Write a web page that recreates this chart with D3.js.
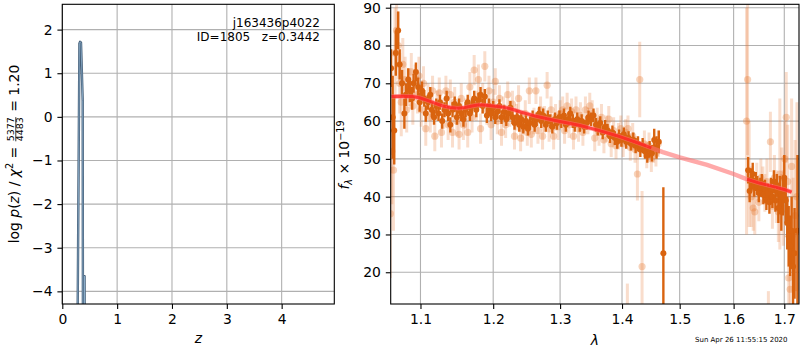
<!DOCTYPE html>
<html><head><meta charset="utf-8">
<script src="https://cdn.jsdelivr.net/npm/d3@7"></script>
<style>body{margin:0;background:#fff}text{font-family:"DejaVu Sans",sans-serif}</style>
</head><body><svg id="c" width="800" height="350"></svg>
<script>
// ---------- DATA ----------
const pzTicksX = [0, 1, 2, 3, 4];
const pzTicksY = [-4, -3, -2, -1, 0, 1, 2];
const pzZ   = [0.260, 0.281, 0.312, 0.325, 0.341, 0.372, 0.378, 0.400, 0.406, 0.412];
const pzLog = [-7.0, -4.3, 1.68, 1.72, 1.70, 0.37, -7.0, -7.0, -3.65, -7.0];

const specTicksX = [1.1, 1.2, 1.3, 1.4, 1.5, 1.6, 1.7];
const specTicksY = [20, 30, 40, 50, 60, 70, 80, 90];

// [lambda, flux, err] binned spectrum (dark)
const darkG102 = [
[1.062,74,5],[1.064,61,11],[1.066,57.5,9],[1.068,78,6],[1.071,84,5],[1.073,75,4],[1.076,70,3.5],
[1.079,62,4],[1.081,67,3],[1.084,71,3],[1.086,68,3],[1.089,66,3],[1.091,70,2.5],[1.094,73,2.5],
[1.097,69,2.5],[1.099,65,2.5],[1.102,68,2.5],[1.105,66,2.2],[1.107,62,2.2],[1.110,65,2],[1.113,67,2],
[1.115,63,2],[1.118,61,2],[1.121,64,2],[1.124,62,2],[1.126,65,2],[1.129,60,2],[1.132,63,2],[1.135,66,2],
[1.137,62,2],[1.140,59,2],[1.143,63,2],[1.146,64.5,2],[1.149,61,2],[1.152,64,2],[1.155,62,2],[1.158,60.5,2],
[1.161,63,2],[1.164,65,2],[1.167,62,2],[1.170,64,2],[1.173,66,2],[1.176,63,2],[1.179,65.5,2],[1.182,67,2],
[1.185,64,2],[1.188,66.5,2],[1.191,61.5,2],[1.194,64,2],[1.197,62,2],[1.200,63.5,1.8],[1.203,61,1.8],
[1.206,62.5,1.8],[1.209,64,1.8],[1.212,61,1.8],[1.216,62.5,1.8],[1.219,60.5,1.8],[1.222,62,1.8],
[1.225,63.5,1.8],[1.228,61,1.8],[1.231,59.5,1.8],[1.235,61,1.8],[1.238,59,1.8],[1.241,60.5,1.8],
[1.244,58.5,1.8],[1.248,60,1.8],[1.251,58,1.8],[1.254,59.5,1.8],[1.258,61,1.8],[1.261,59,1.8],
[1.264,60.5,1.8],[1.268,62,1.8],[1.271,60,1.8],[1.274,61.5,1.8],[1.278,59,1.8],[1.281,61,1.8],
[1.285,60,1.8],[1.288,58.5,1.8],[1.292,60.5,1.8],[1.295,59.5,1.8],[1.299,61,1.8],[1.302,60,1.8],
[1.306,61.5,1.8],[1.309,59,1.8],[1.313,60.5,1.8],[1.316,62,1.8],[1.320,60,1.8],[1.323,59,1.8],
[1.327,60.5,1.8],[1.331,59,1.8],[1.334,60,1.8],[1.338,58.5,1.8],[1.342,59.5,1.8],[1.345,61,1.8],
[1.349,60.5,1.8],[1.353,61.5,1.8],[1.357,59,1.8],[1.360,58,1.8],[1.364,59.5,1.8],[1.368,57,1.8],
[1.372,58.5,1.8],[1.376,57.5,1.8],[1.380,56,1.8],[1.384,57,1.8],[1.388,55.5,1.8],[1.392,54.5,1.8],
[1.395,56,1.8],[1.399,55,1.8],[1.403,56.5,1.8],[1.407,54.5,1.8],[1.411,55.5,1.8],[1.415,54,1.8],
[1.419,55,2],[1.423,53.5,2],[1.427,54,2],[1.431,52.5,2],[1.435,53.5,2],[1.439,52,2],[1.443,51,2],
[1.447,52.5,2.2],[1.451,51.5,2.2],[1.455,55,3],[1.459,53,3],[1.463,54.5,3],[1.471,25,17.5]
];
const darkG141 = [
[1.628,47,3.5],[1.631,41.5,3],[1.634,44.5,3],[1.637,46,3],[1.640,42.5,2.5],[1.643,44,2.5],[1.646,43,2.5],
[1.649,41,2.5],[1.652,42.5,2.5],[1.655,43.5,2.5],[1.658,40.5,2.5],[1.661,42,2.5],[1.664,39,2.5],
[1.667,41,2.5],[1.670,38.5,3],[1.673,42,3],[1.676,40,3],[1.679,44,3],[1.682,39,3],[1.685,43,3],
[1.688,37,4],[1.691,41.5,4],[1.694,36,5],[1.697,40,5],[1.700,45,6],[1.703,39,6],[1.706,33,7],
[1.709,29.5,8],[1.712,27,8],[1.715,31,9],[1.718,21.5,10],[1.721,25,12],[1.727,31,20]
];
// [lambda, flux, err] individual beams (light)
const lightG102 = [
[1.061,35.5,17],[1.063,52,14],[1.065,47,16],[1.067,78,12],[1.069,84,10],[1.071,80,9],[1.073,70,8],
[1.075,65,9],[1.077,75,7],[1.080,71,6],[1.082,63,6],[1.085,69,5],[1.088,73,5],[1.090,64,5],[1.093,70,5],
[1.096,67,5],[1.098,72,5],[1.101,63,4.5],[1.104,70,4.5],[1.107,58,4.5],[1.110,66,4],[1.113,61,4],
[1.116,68,4],[1.119,56,4],[1.122,64,4],[1.125,67.5,4],[1.128,57,4],[1.131,62,4],[1.134,68,4],[1.137,59,4],
[1.140,67,4],[1.143,57,4],[1.146,65,4],[1.149,60,4],[1.152,56.5,4],[1.155,66,4],[1.158,59,4],[1.161,62,4],
[1.164,57,4],[1.167,69,4],[1.170,61,4],[1.173,73.5,4],[1.176,64,4],[1.179,71,4],[1.182,58,4],[1.185,66,4],
[1.188,74.5,4],[1.191,63,4],[1.194,68,4],[1.197,59,4],[1.200,65,3.5],[1.203,70.5,3.5],[1.206,60,3.5],
[1.209,66,3.5],[1.212,57,3.5],[1.215,63,3.5],[1.218,59,3.5],[1.221,67,3.5],[1.224,62,3.5],[1.228,64.5,3.5],
[1.231,56,3.5],[1.234,61,3.5],[1.237,66,3.5],[1.240,55.5,3.5],[1.243,58,3.5],[1.247,62,3.5],[1.250,57,3.5],
[1.253,68,3.5],[1.256,56.5,3.5],[1.260,60,3.5],[1.263,68,3.5],[1.266,57.5,3.5],[1.270,63,3.5],[1.273,56,3.5],
[1.276,60.5,3.5],[1.280,69.5,3.5],[1.283,58,3.5],[1.286,63,3.5],[1.290,56,3.5],[1.293,61,3.5],
[1.297,58.5,3.5],[1.300,62,3.5],[1.304,63,3.5],[1.307,57.5,3.5],[1.311,64,3.5],[1.314,59,3.5],
[1.318,62.5,3.5],[1.321,56,3.5],[1.325,63,3.5],[1.329,58,3.5],[1.332,61.5,3.5],[1.336,57,3.5],
[1.340,63,3.5],[1.344,60,3.5],[1.347,64,3.5],[1.351,62,3.5],[1.355,55.5,3.5],[1.359,60,3.5],
[1.362,57,3.5],[1.366,61,3.5],[1.370,55,3.5],[1.374,58,3.5],[1.378,60.5,3.5],[1.382,54,3.5],
[1.386,57.5,3.5],[1.390,53.5,3.5],[1.394,56,3.5],[1.398,58,3.5],[1.402,54,3.5],[1.406,57,3.5],
[1.409,5,12],[1.410,58,3.5],[1.414,53,3.5],[1.418,56,3.5],[1.422,52.5,3.5],[1.426,46,7],[1.430,71,10],
[1.434,21.5,20],[1.438,54,3.5],[1.442,51,3.5],[1.446,53.5,3.5],[1.450,50,3.5],[1.454,52.5,3.5],
[1.458,51.5,3.5],[1.462,54,3.5]
];
const lightG141 = [
[1.625,60,30],[1.627,71,20],[1.630,46,14],[1.634,40,8],[1.638,37,6],[1.641,36,6],[1.645,44,5],
[1.649,38.5,5],[1.653,45,5],[1.657,43,5],[1.661,41,5],[1.665,44,6],[1.668,5,10],[1.672,54.5,8],
[1.676,37.5,6],[1.680,45,6],[1.684,40,7],[1.688,36,8],[1.691,46,20],[1.695,45,8],[1.698,37,10],
[1.701,50,10],[1.704,61,12],[1.707,44,15],[1.709,18.5,12],[1.712,15.5,12],[1.715,48,18],
[1.718,30,15],[1.722,35,20],[1.726,40,25]
];
const modelLam  = [1.0625,1.075,1.09,1.10,1.11,1.12,1.13,1.14,1.15,1.16,1.17,1.18,1.19,1.20,1.21,1.22,1.23,1.24,1.25,1.26,1.28,1.30,1.33,1.36,1.39,1.42,1.45,1.47,1.50,1.55,1.60,1.626,1.65,1.68,1.70,1.715];
const modelFlux = [66.5,66.6,66.5,66.1,65.4,64.7,64.0,63.6,63.4,63.6,64.0,64.3,64.2,64.0,63.8,63.5,63.0,62.4,61.9,61.4,60.6,59.9,58.9,57.6,56.2,54.6,52.9,51.8,50.4,48.4,46.0,44.6,43.6,42.6,41.9,41.2];
const dataRanges = [[1.0625,1.465],[1.626,1.715]];

// ---------- DRAW ----------
const svg = d3.select('#c');
const FS = 13.9;
const gridC = '#b0b0b0';

const xL = d3.scaleLinear().domain([0, 4.96]).range([62.3, 334.3]);
const yL = d3.scaleLinear().domain([-4.29, 2.58]).range([304, 4.3]);
const xR = d3.scaleLog().domain([1.0615, 1.7302]).range([390.7, 799]);
const yR = d3.scaleLinear().domain([11.6, 90.9]).range([304, 4.3]);

const defs = svg.append('defs');
defs.append('clipPath').attr('id','clipL').append('rect')
  .attr('x',xL.range()[0]).attr('y',yL.range()[1]).attr('width',xL.range()[1]-xL.range()[0]).attr('height',yL.range()[0]-yL.range()[1]);
defs.append('clipPath').attr('id','clipR').append('rect')
  .attr('x',xR.range()[0]).attr('y',yR.range()[1]).attr('width',xR.range()[1]-xR.range()[0]).attr('height',yR.range()[0]-yR.range()[1]);

function grid(x, y, tx, ty){
  const g = svg.append('g');
  g.selectAll('.gx').data(tx).join('line')
    .attr('x1',d=>x(d)).attr('x2',d=>x(d)).attr('y1',y.range()[0]).attr('y2',y.range()[1])
    .attr('stroke',gridC).attr('stroke-width',1.1);
  g.selectAll('.gy').data(ty).join('line')
    .attr('y1',d=>y(d)).attr('y2',d=>y(d)).attr('x1',x.range()[0]).attr('x2',x.range()[1])
    .attr('stroke',gridC).attr('stroke-width',1.1);
}
function axes(x, y, tx, ty, fmtX, fmtY){
  const b = y.range()[0], l = x.range()[0];
  const ax = svg.append('g').attr('transform',`translate(0,${b})`)
    .call(d3.axisBottom(x).tickValues(tx).tickFormat(fmtX).tickSize(4.9).tickPadding(4.9).tickSizeOuter(0));
  const ay = svg.append('g').attr('transform',`translate(${l},0)`)
    .call(d3.axisLeft(y).tickValues(ty).tickFormat(fmtY).tickSize(4.9).tickPadding(4.9).tickSizeOuter(0));
  [ax, ay].forEach(a=>{
    a.select('.domain').remove();
    a.selectAll('line').attr('stroke','#000').attr('stroke-width',1.1);
    a.selectAll('text').attr('font-size',FS).attr('font-family','DejaVu Sans').attr('fill','#000');
  });
  ax.selectAll('text').attr('dy','0.76em');
  svg.append('rect').attr('x',x.range()[0]).attr('y',y.range()[1])
    .attr('width',x.range()[1]-x.range()[0]).attr('height',y.range()[0]-y.range()[1])
    .attr('fill','none').attr('stroke','#000').attr('stroke-width',1.1);
}
const minus = s => s.replace('-', '\u2212');

// ----- left panel -----
grid(xL, yL, pzTicksX, pzTicksY);
const pzLine = d3.line().x((d,i)=>xL(pzZ[i])).y((d,i)=>yL(pzLog[i]));
const gL = svg.append('g').attr('clip-path','url(#clipL)');
gL.append('path').datum(pzZ).attr('d',pzLine).attr('fill','none')
  .attr('stroke','#465f78').attr('stroke-width',2.4).attr('stroke-linejoin','round');
gL.append('path').datum(pzZ).attr('d',pzLine).attr('fill','none')
  .attr('stroke','#8fb2cf').attr('stroke-width',0.8).attr('stroke-linejoin','round');
axes(xL, yL, pzTicksX, pzTicksY, d=>String(d), d=>minus(String(d)));

svg.append('text').attr('x',320).attr('y',26.5).attr('text-anchor','end')
  .attr('font-size',12).text('j163436p4022');
svg.append('text').attr('x',320).attr('y',40.5).attr('text-anchor','end')
  .attr('font-size',12).style('white-space','pre').text('ID=1805   z=0.3442');

svg.append('text').attr('x',(xL.range()[0]+xL.range()[1])/2).attr('y',343)
  .attr('text-anchor','middle').attr('font-size',FS).attr('font-style','italic').text('z');

{
  const g = svg.append('g').attr('transform','translate(18.5,154) rotate(-90)');
  const t1 = g.append('text').attr('font-size',FS).style('white-space','pre');
  t1.append('tspan').text('log ');
  t1.append('tspan').attr('font-style','italic').text('p');
  t1.append('tspan').text('(');
  t1.append('tspan').attr('font-style','italic').text('z');
  t1.append('tspan').text(') / ');
  t1.append('tspan').attr('font-style','italic').text('\u03c7');
  t1.append('tspan').attr('font-size',9.7).attr('dy',-5.5).text('2');
  t1.append('tspan').attr('dy',5.5).text(' = ');
  const w1 = t1.node().getComputedTextLength();
  const num = g.append('text').attr('font-size',9.5).attr('text-anchor','middle').attr('y',-4.2).text('5377');
  const den = g.append('text').attr('font-size',9.5).attr('text-anchor','middle').attr('y',4.6).text('4483');
  const wF = Math.max(num.node().getComputedTextLength(), den.node().getComputedTextLength()) + 2;
  const t3 = g.append('text').attr('font-size',FS).style('white-space','pre').text(' = 1.20');
  const w3 = t3.node().getComputedTextLength();
  const start = -(w1 + wF + w3)/2;
  t1.attr('x', start);
  num.attr('x', start + w1 + wF/2);
  den.attr('x', start + w1 + wF/2);
  g.append('line').attr('x1',start+w1+1).attr('x2',start+w1+wF-1).attr('y1',-2.7).attr('y2',-2.7)
    .attr('stroke','#000').attr('stroke-width',0.8);
  t3.attr('x', start + w1 + wF);
}

// ----- right panel -----
grid(xR, yR, specTicksX, specTicksY);
const gR = svg.append('g').attr('clip-path','url(#clipR)');
const light = lightG102.concat(lightG141);
const dark = darkG102.concat(darkG141);

gR.selectAll('.le').data(light).join('line')
  .attr('x1',d=>xR(d[0])).attr('x2',d=>xR(d[0]))
  .attr('y1',d=>yR(d[1]-d[2])).attr('y2',d=>yR(d[1]+d[2]))
  .attr('stroke','rgb(232,120,50)').attr('stroke-opacity',0.25).attr('stroke-width',3);
gR.selectAll('.lp').data(light).join('circle')
  .attr('cx',d=>xR(d[0])).attr('cy',d=>yR(d[1])).attr('r',3.6)
  .attr('fill','rgb(232,120,50)').attr('fill-opacity',0.33);
gR.selectAll('.de').data(dark).join('line')
  .attr('x1',d=>xR(d[0])).attr('x2',d=>xR(d[0]))
  .attr('y1',d=>yR(d[1]-d[2])).attr('y2',d=>yR(d[1]+d[2]))
  .attr('stroke','#d9630f').attr('stroke-width',2.4);
gR.selectAll('.dp').data(dark).join('circle')
  .attr('cx',d=>xR(d[0])).attr('cy',d=>yR(d[1])).attr('r',3)
  .attr('fill','#d9630f');

const mLine = d3.line().x(i=>xR(modelLam[i])).y(i=>yR(modelFlux[i]));
const idx = modelLam.map((d,i)=>i);
gR.append('path').datum(idx).attr('d',mLine).attr('fill','none')
  .attr('stroke','#ff7070').attr('stroke-opacity',0.6).attr('stroke-width',4.5);
dataRanges.forEach(r=>{
  const sub = idx.filter(i=>modelLam[i]>=r[0]-1e-6 && modelLam[i]<=r[1]+1e-6);
  gR.append('path').datum(sub).attr('d',mLine).attr('fill','none')
    .attr('stroke','#ff1a1a').attr('stroke-opacity',0.7).attr('stroke-width',3);
});

axes(xR, yR, specTicksX, specTicksY, d=>d3.format('.1f')(d), d=>String(d));

svg.append('text').attr('x',(xR.range()[0]+xR.range()[1])/2).attr('y',345)
  .attr('text-anchor','middle').attr('font-size',FS).attr('font-style','italic').text('\u03bb');
{
  const g = svg.append('g').attr('transform','translate(349,155) rotate(-90)');
  const t = g.append('text').attr('font-size',FS).attr('text-anchor','middle').style('white-space','pre');
  t.append('tspan').attr('font-style','italic').text('f');
  t.append('tspan').attr('font-size',9.7).attr('font-style','italic').attr('dy',3).text('\u03bb');
  t.append('tspan').attr('dy',-3).text(' \u00d7 10');
  t.append('tspan').attr('font-size',9.7).attr('dy',-5.5).text('\u221219');
}
svg.append('text').attr('x',787.5).attr('y',342).attr('text-anchor','end')
  .attr('font-size',7).text('Sun Apr 26 11:55:15 2020');
</script></body></html>
